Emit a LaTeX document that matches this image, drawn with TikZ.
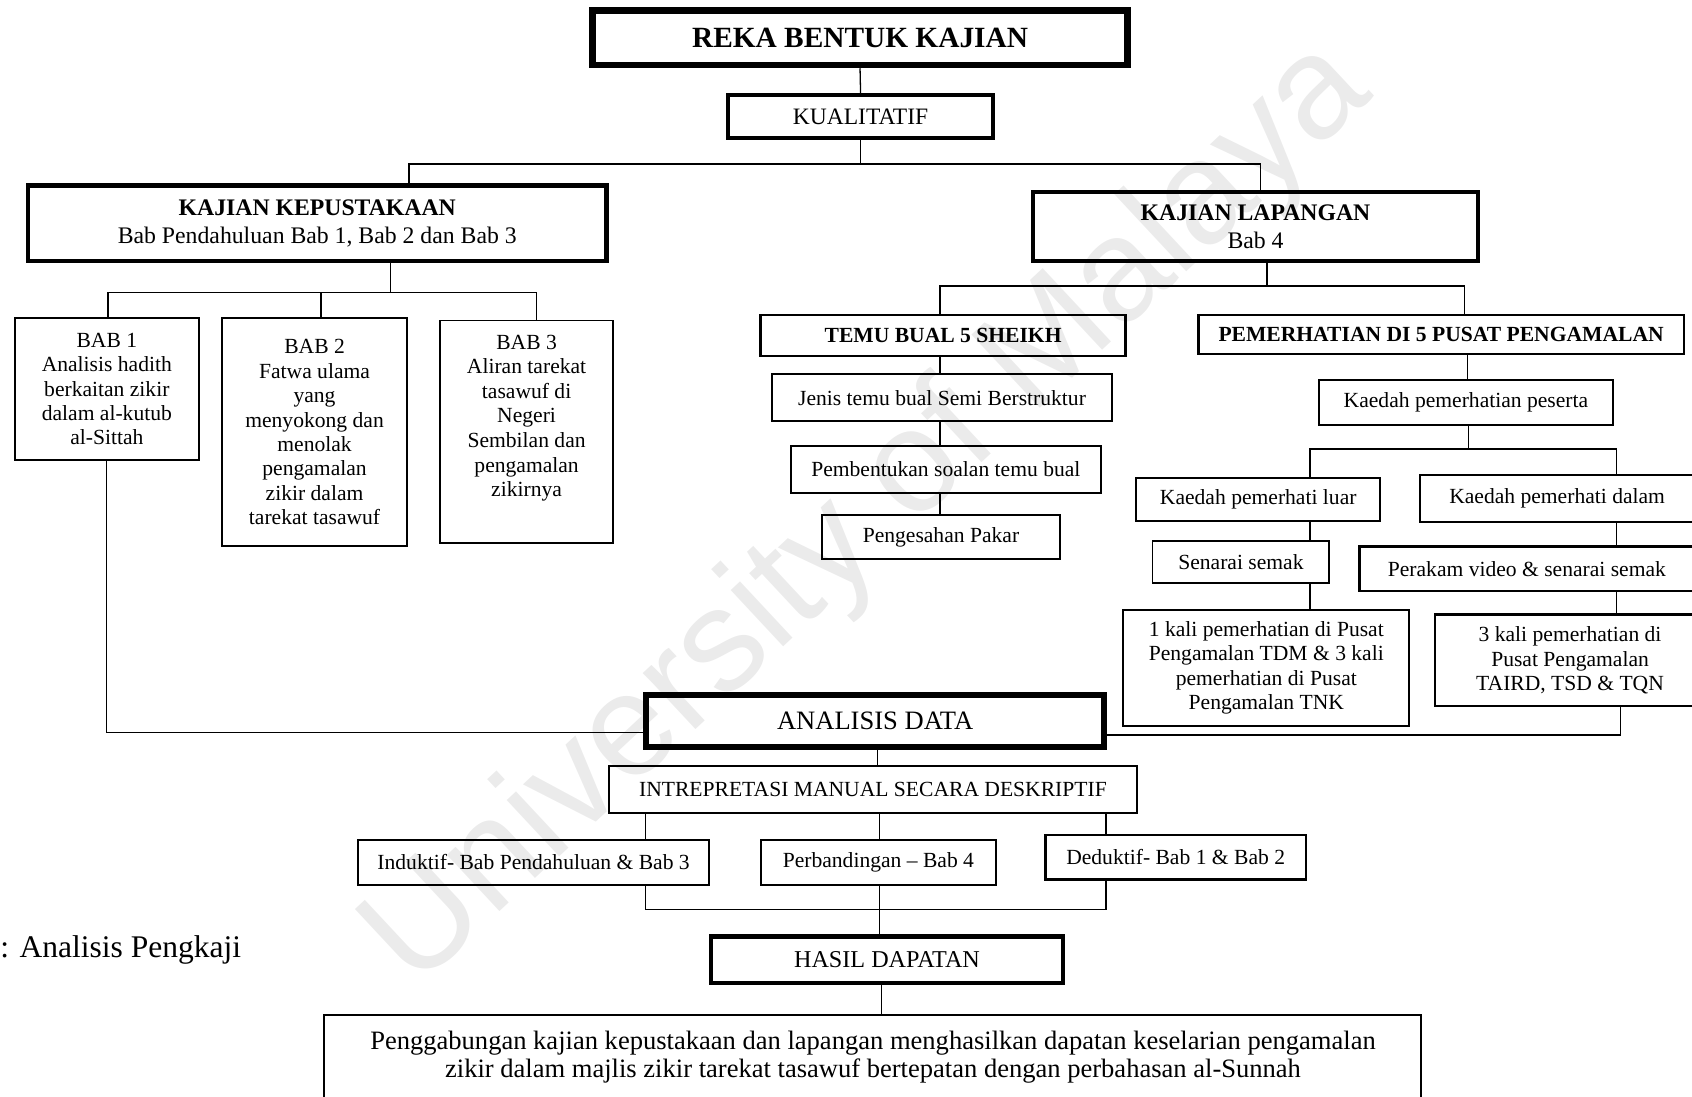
\documentclass[tikz,border=0pt]{standalone}
\usepackage{fontspec}
\setmainfont{Liberation Serif}
\newfontfamily\wmfont{Liberation Sans}
\tikzset{
 box/.style={draw, rectangle, line width=0.9pt, inner sep=0pt, align=center, font=\fontsize{10}{11.3}\selectfont},
 conn/.style={line width=0.6pt},
 plain/.style={inner sep=0pt, align=center}
}
\begin{document}
\begin{tikzpicture}[x=0.5pt,y=-0.5pt]
\useasboundingbox (0,0) rectangle (1568,1016);
% watermark
\node[plain, rotate=43, text=black!8, font=\wmfont\fontsize{67.5}{70}\selectfont] (wm) at (806,478) {University of Malaya};

% boxes
\node[box, line width=3pt, minimum width=247.75pt, minimum height=25.25pt, font=\bfseries\fontsize{13.6}{15}\selectfont] (title) at (797,35) {REKA BENTUK KAJIAN};
\node[box, line width=1.8pt, minimum width=122.5pt, minimum height=20pt, font=\fontsize{10.9}{12}\selectfont] (kual) at (797.5,108) {KUALITATIF};
\node[box, line width=2pt, minimum width=268pt, minimum height=35pt, font=\fontsize{11}{13}\selectfont] (kep) at (294,207) {\textbf{KAJIAN KEPUSTAKAAN}\\Bab Pendahuluan Bab 1, Bab 2 dan Bab 3};
\node[box, line width=1.9pt, minimum width=206.5pt, minimum height=32pt, font=\fontsize{11}{13}\selectfont] (lap) at (1163.5,210) {\textbf{KAJIAN LAPANGAN}\\Bab 4};

\node[box, minimum width=85pt, minimum height=65.5pt] (bab1) at (99,360.5) {BAB 1\\Analisis hadith\\berkaitan zikir\\dalam al-kutub\\al-Sittah};
\node[box, minimum width=85.5pt, minimum height=105.5pt] (bab2) at (291.5,400.5) {BAB 2\\Fatwa ulama\\yang\\menyokong dan\\menolak\\pengamalan\\zikir dalam\\tarekat tasawuf};
\node[box, minimum width=80pt, minimum height=103pt] (bab3) at (488,400) {};
\node[plain, font=\fontsize{10}{11.4}\selectfont] (bab3t) at (488,387.5) {BAB 3\\Aliran tarekat\\tasawuf di\\Negeri\\Sembilan dan\\pengamalan\\zikirnya};

\node[box, line width=1.25pt, minimum width=169pt, minimum height=19pt, font=\bfseries\fontsize{10}{12}\selectfont] (temu) at (874,311) {TEMU BUAL 5 SHEIKH};
\node[box, minimum width=157.5pt, minimum height=21.5pt] (jenis) at (873,368.5) {Jenis temu bual Semi Berstruktur};
\node[box, minimum width=143.5pt, minimum height=22pt] (pemb) at (876.5,435) {Pembentukan soalan temu bual};
\node[box, minimum width=110pt, minimum height=20.5pt] (peng) at (872,497.5) {Pengesahan Pakar};

\node[box, line width=1.25pt, minimum width=225pt, minimum height=18pt, font=\bfseries\fontsize{10}{12}\selectfont] (pem) at (1335.5,310) {PEMERHATIAN DI 5 PUSAT PENGAMALAN};
\node[box, minimum width=136.5pt, minimum height=21pt] (kpp) at (1358.5,373) {Kaedah pemerhatian peserta};
\node[box, minimum width=113pt, minimum height=20pt] (kpl) at (1166,463) {Kaedah pemerhati luar};
\node[box, line width=1.1pt, minimum width=127pt, minimum height=22pt] (kpd) at (1443,462) {Kaedah pemerhati dalam};
\node[box, minimum width=82pt, minimum height=19.5pt] (senarai) at (1150,520.5) {Senarai semak};
\node[box, line width=1.1pt, minimum width=155pt, minimum height=20.5pt] (perakam) at (1415,527) {Perakam video \& senarai semak};
\node[box, font=\fontsize{10}{11.35}\selectfont, minimum width=132.5pt, minimum height=54pt] (satu) at (1173.5,619) {1 kali pemerhatian di Pusat\\Pengamalan TDM \& 3 kali\\pemerhatian di Pusat\\Pengamalan TNK};
\node[box, line width=1.1pt, minimum width=125pt, minimum height=42.5pt] (taird) at (1455,612) {3 kali pemerhatian di\\Pusat Pengamalan\\TAIRD, TSD \& TQN};

\node[box, line width=2.8pt, minimum width=212pt, minimum height=24pt, font=\fontsize{12.3}{14}\selectfont] (anal) at (811,668) {ANALISIS DATA};
\node[box, minimum width=245pt, minimum height=21.5pt] (intr) at (809,731.5) {INTREPRETASI MANUAL SECARA DESKRIPTIF};
\node[box, minimum width=162.5pt, minimum height=21pt] (ind) at (494.5,799) {Induktif- Bab Pendahuluan \& Bab 3};
\node[box, minimum width=109pt, minimum height=21pt] (perb) at (814,799) {Perbandingan – Bab 4};
\node[box, line width=1.1pt, minimum width=120.5pt, minimum height=20.5pt] (ded) at (1089.5,794.5) {Deduktif- Bab 1 \& Bab 2};
\node[box, line width=2.2pt, minimum width=163pt, minimum height=21.5pt, font=\fontsize{11.2}{13}\selectfont] (hasil) at (822,889.5) {HASIL DAPATAN};
\node[box, anchor=north, minimum width=508.5pt, minimum height=50pt] (final) at (808.5,940) {};
\node[plain, font=\fontsize{12.3}{13}\selectfont] (finalt) at (809,980) {Penggabungan kajian kepustakaan dan lapangan menghasilkan dapatan keselarian pengamalan\\zikir dalam majlis zikir tarekat tasawuf bertepatan dengan perbahasan al-Sunnah};

\node[anchor=west, inner sep=0pt, font=\fontsize{14.6}{16}\selectfont] (src) at (0,880) {: Analisis Pengkaji};

% connectors
\coordinate (jA) at (379,152);
\coordinate (jB) at (1168,152);
\draw[conn] (title.south) -- (kual.north);
\draw[conn] (kual.south) -- (kual.south |- jA);
\draw[conn] (kep.north -| jA) -- (jA) -- (jB) -- (lap.north -| jB);

\coordinate (jE) at (362,271);
\coordinate (jE1) at (100,271);
\coordinate (jE2) at (297.5,271);
\coordinate (jE3) at (497,271);
\draw[conn] (kep.south -| jE) -- (jE);
\draw[conn] (bab1.north -| jE1) -- (jE1) -- (jE3) -- (bab3.north -| jE3);
\draw[conn] (jE2) -- (bab2.north -| jE2);

\coordinate (jL) at (1174,265);
\coordinate (jL1) at (871,265);
\coordinate (jL2) at (1357,265);
\draw[conn] (lap.south -| jL) -- (jL);
\draw[conn] (temu.north -| jL1) -- (jL1) -- (jL2) -- (pem.north -| jL2);
\draw[conn] (temu.south -| jL1) -- (jenis.north -| jL1);
\draw[conn] (jenis.south -| jL1) -- (pemb.north -| jL1);
\draw[conn] (pemb.south -| jL1) -- (peng.north -| jL1);

\coordinate (jP) at (1360,0);
\draw[conn] (pem.south -| jP) -- (kpp.north -| jP);
\coordinate (jK) at (1361,416);
\coordinate (jK1) at (1214,416);
\coordinate (jK2) at (1498,416);
\draw[conn] (kpp.south -| jK) -- (jK);
\draw[conn] (kpl.north -| jK1) -- (jK1) -- (jK2) -- (kpd.north -| jK2);
\draw[conn] (kpl.south -| jK1) -- (senarai.north -| jK1);
\draw[conn] (senarai.south -| jK1) -- (satu.north -| jK1);
\draw[conn] (kpd.south -| jK2) -- (perakam.north -| jK2);
\draw[conn] (perakam.south -| jK2) -- (taird.north -| jK2);

\coordinate (jC) at (99,679);
\draw[conn] (bab1.south) -- (jC) -- (anal.west |- jC);
\coordinate (jD) at (1502,681);
\draw[conn] (taird.south -| jD) -- (jD) -- (anal.east |- jD);

\coordinate (xA) at (813,0);
\draw[conn] (anal.south -| xA) -- (intr.north -| xA);
\coordinate (xI) at (598,0);
\coordinate (xP) at (815,0);
\coordinate (xD) at (1025,0);
\draw[conn] (intr.south -| xI) -- (ind.north -| xI);
\draw[conn] (intr.south -| xP) -- (perb.north -| xP);
\draw[conn] (intr.south -| xD) -- (ded.north -| xD);
\coordinate (jH1) at (598,843);
\coordinate (jH3) at (1025,843);
\draw[conn] (ind.south -| jH1) -- (jH1) -- (jH3) -- (ded.south -| jH3);
\draw[conn] (perb.south -| xP) -- (hasil.north -| xP);
\coordinate (xH) at (817,0);
\draw[conn] (hasil.south -| xH) -- (final.north -| xH);
\end{tikzpicture}
\end{document}
